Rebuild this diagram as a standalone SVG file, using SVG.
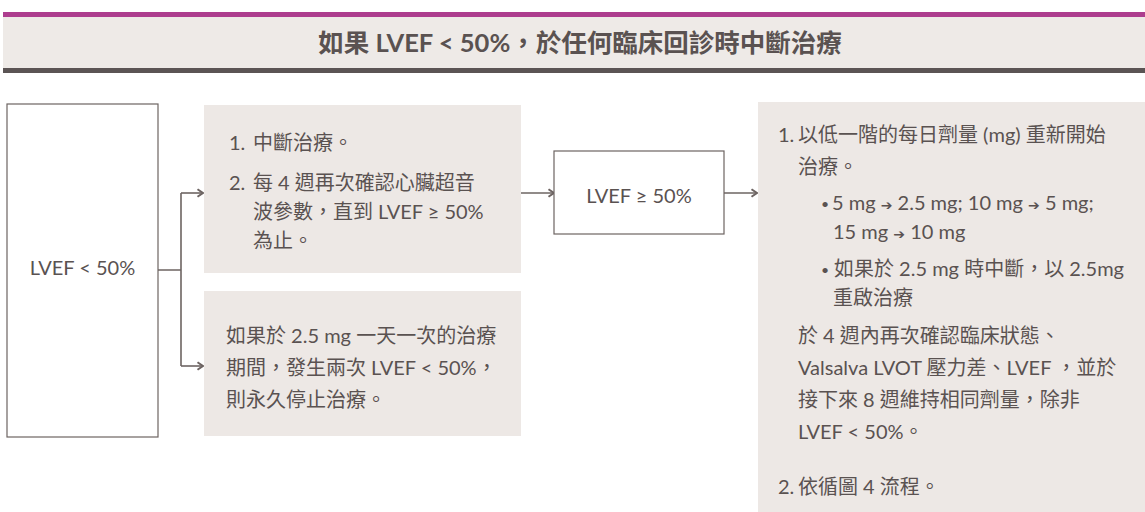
<svg xmlns="http://www.w3.org/2000/svg" width="1145" height="512" viewBox="0 0 1145 512" xml:lang="zh-Hant-TW">
<style>
.t{font-family:"Lato","Noto Sans CJK TC",sans-serif;font-size:20px;fill:#5a5251}
.title{font-family:"Lato","Noto Sans CJK TC",sans-serif;font-size:25.5px;font-weight:bold;fill:#5a5251}
.box{fill:#ffffff;stroke:#6d6462;stroke-width:1.2}
.panel{fill:#ede8e5}
.conn{fill:none;stroke:#6d6462;stroke-width:1.6}
.ar{font-family:"DejaVu Sans",sans-serif;font-size:14px}
.bl{font-size:14px}
</style>
<defs>
<marker id="arr" markerWidth="10" markerHeight="10" refX="7.5" refY="5" orient="auto" markerUnits="userSpaceOnUse">
<path d="M2,1.2 L7.5,5 L2,8.8" fill="none" stroke="#6d6462" stroke-width="2"/>
</marker>
</defs>
<g id="header">
<rect x="3" y="12" width="1142" height="5" fill="#ad3d8e"/>
<rect x="3" y="17" width="1142" height="51" fill="#eeeae7"/>
<rect x="3" y="68" width="1142" height="5" fill="#5b5454"/>
<text class="title" x="580" y="52" text-anchor="middle">如果 LVEF &lt; 50%，於任何臨床回診時中斷治療</text>
</g>
<g id="connectors">
<path class="conn" d="M158,270 H181 M181,193 V366"/>
<path class="conn" d="M181,193 H203" marker-end="url(#arr)"/>
<path class="conn" d="M181,366 H203" marker-end="url(#arr)"/>
<path class="conn" d="M521,193 H554" marker-end="url(#arr)"/>
<path class="conn" d="M724,193 H757" marker-end="url(#arr)"/>
</g>
<g id="node-lvef-low">
<rect class="box" x="7" y="104" width="151" height="333"/>
<text class="t" x="82.5" y="275" text-anchor="middle">LVEF &lt; 50%</text>
</g>
<g id="node-interrupt">
<rect class="panel" x="204" y="105" width="317" height="168"/>
<text class="t" x="229" y="150">1.</text>
<text class="t" x="253" y="150">中斷治療。</text>
<text class="t" x="229" y="190">2.</text>
<text class="t" x="253" y="190">每 4 週再次確認心臟超音</text>
<text class="t" x="253" y="219">波參數，直到 LVEF ≥ 50%</text>
<text class="t" x="253" y="248">為止。</text>
</g>
<g id="node-discontinue">
<rect class="panel" x="204" y="291" width="317" height="145"/>
<text class="t" x="226" y="343">如果於 2.5 mg 一天一次的治療</text>
<text class="t" x="226" y="375">期間，發生兩次 LVEF &lt; 50%，</text>
<text class="t" x="226" y="407">則永久停止治療。</text>
</g>
<g id="node-lvef-ok">
<rect class="box" x="554" y="151" width="170" height="83"/>
<text class="t" x="639" y="203" text-anchor="middle">LVEF ≥ 50%</text>
</g>
<g id="node-restart">
<rect class="panel" x="758" y="102" width="387" height="410"/>
<text class="t" x="778" y="142">1.</text>
<text class="t" x="798" y="142">以低一階的每日劑量 (mg) 重新開始</text>
<text class="t" x="798" y="174">治療。</text>
<text class="t bl" x="821" y="209">•</text>
<text class="t" x="832" y="210">5 mg <tspan class="ar">➔</tspan> 2.5 mg; 10 mg <tspan class="ar">➔</tspan> 5 mg;</text>
<text class="t" x="833" y="239">15 mg <tspan class="ar">➔</tspan> 10 mg</text>
<text class="t bl" x="821" y="275">•</text>
<text class="t" x="834" y="276">如果於 2.5 mg 時中斷，以 2.5mg</text>
<text class="t" x="833" y="305">重啟治療</text>
<text class="t" x="798" y="343">於 4 週內再次確認臨床狀態、</text>
<text class="t" x="798" y="375">Valsalva LVOT 壓力差、LVEF ，並於</text>
<text class="t" x="798" y="407">接下來 8 週維持相同劑量，除非</text>
<text class="t" x="798" y="439">LVEF &lt; 50%。</text>
<text class="t" x="778" y="494">2.</text>
<text class="t" x="798" y="494">依循圖 4 流程。</text>
</g>
</svg>
